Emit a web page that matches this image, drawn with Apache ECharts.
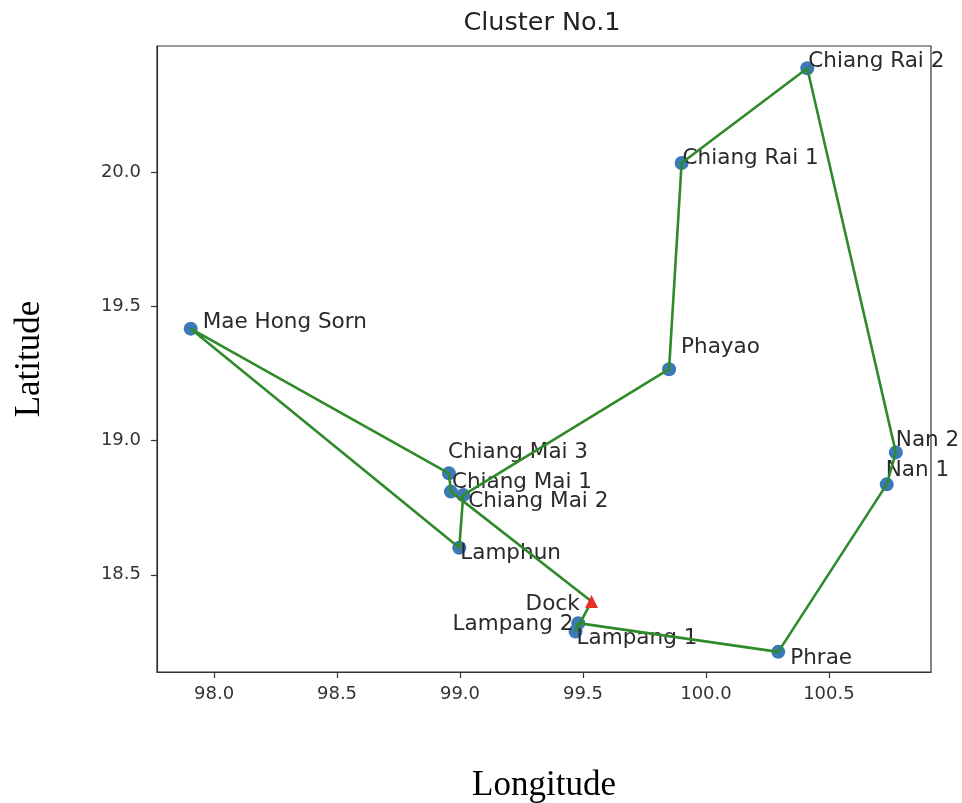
<!DOCTYPE html>
<html>
<head>
<meta charset="utf-8">
<script src="https://cdn.jsdelivr.net/npm/echarts@6/dist/echarts.min.js"></script>
<style>
  html, body { margin: 0; padding: 0; background: #fff; }
  #chart { width: 962px; height: 803px; }
</style>
</head>
<body>
<div id="chart"></div>
<script>
// 站点名称与经纬度
const names = ['Chiang Rai 2', 'Chiang Rai 1', 'Phayao', 'Mae Hong Sorn', 'Chiang Mai 3', 'Chiang Mai 1',
  'Chiang Mai 2', 'Lamphun', 'Lampang 2', 'Lampang 1', 'Phrae', 'Nan 1', 'Nan 2'];
const lons = [100.412, 99.901, 99.850, 97.905, 98.955, 98.963, 99.013, 98.997, 99.481, 99.470, 100.294, 100.735, 100.772];
const lats = [20.387, 20.034, 19.266, 19.417, 18.878, 18.810, 18.797, 18.601, 18.320, 18.289, 18.213, 18.837, 18.956];

// 仓库
const dockLon = 99.535;
const dockLat = 18.401;

// 路线顺序（从仓库出发并返回）
const route = ['Dock', 'Lampang 1', 'Lampang 2', 'Phrae', 'Nan 1', 'Nan 2', 'Chiang Rai 2', 'Chiang Rai 1',
  'Phayao', 'Chiang Mai 2', 'Lamphun', 'Mae Hong Sorn', 'Chiang Mai 3', 'Chiang Mai 1', 'Dock'];

// 坐标轴刻度
const xTicks = [98.0, 98.5, 99.0, 99.5, 100.0, 100.5];
const yTicks = [18.5, 19.0, 19.5, 20.0];

// 标签摆放（仅样式）
const labelPlace = {
  'Chiang Rai 2': [1, -7, 'left'],
  'Chiang Rai 1': [1, -5, 'left'],
  'Phayao': [12, -22, 'left'],
  'Mae Hong Sorn': [12, -6, 'left'],
  'Chiang Mai 3': [-1, -21, 'left'],
  'Chiang Mai 1': [1, -9, 'left'],
  'Chiang Mai 2': [5, 6, 'left'],
  'Lamphun': [1, 6, 'left'],
  'Lampang 2': [-5, 1, 'right'],
  'Lampang 1': [1, 7, 'left'],
  'Phrae': [12, 7, 'left'],
  'Nan 1': [-1, -14, 'left'],
  'Nan 2': [0, -12, 'left'],
  'Dock': [-12, 3, 'right']
};

function coordOf(name) {
  if (name === 'Dock') return [dockLon, dockLat];
  const i = names.indexOf(name);
  return [lons[i], lats[i]];
}

const chart = echarts.init(document.getElementById('chart'));

const pointData = names.map((n, i) => {
  const p = labelPlace[n];
  return {
    name: n,
    value: [lons[i], lats[i]],
    label: { offset: [p[0], p[1]], align: p[2] }
  };
});

const option = {
  animation: false,
  backgroundColor: '#fff',
  graphic: [{
    type: 'text',
    x: 542,
    y: 23,
    style: {
      text: 'Cluster No.1',
      font: '25.5px "DejaVu Sans"',
      fill: '#222',
      align: 'center',
      verticalAlign: 'middle'
    }
  }],
  grid: {
    left: 157,
    right: 31,
    top: 46,
    bottom: 131,
    containLabel: false,
    outerBoundsMode: 'none',
    show: true,
    borderColor: '#333',
    borderWidth: 1.2
  },
  xAxis: {
    type: 'value',
    min: 97.768,
    max: 100.915,
    name: 'Longitude',
    nameLocation: 'middle',
    nameGap: 96,
    nameTextStyle: { fontFamily: 'Liberation Serif', fontSize: 35, color: '#000' },
    axisLine: { show: true, onZero: false, lineStyle: { color: '#333', width: 1.2 } },
    axisTick: { show: true, inside: false, length: 6, customValues: xTicks, lineStyle: { color: '#333', width: 1.2 } },
    axisLabel: {
      customValues: xTicks,
      fontFamily: 'DejaVu Sans',
      fontSize: 18,
      color: '#333',
      margin: 13,
      formatter: v => v.toFixed(1)
    },
    splitLine: { show: false }
  },
  yAxis: {
    type: 'value',
    min: 18.138,
    max: 20.470,
    name: 'Latitude',
    nameLocation: 'middle',
    nameGap: 110,
    nameRotate: 90,
    nameTextStyle: { fontFamily: 'Liberation Serif', fontSize: 35, color: '#000' },
    axisLine: { show: true, onZero: false, lineStyle: { color: '#333', width: 1.2 } },
    axisTick: { show: true, inside: false, length: 6, customValues: yTicks, lineStyle: { color: '#333', width: 1.2 } },
    axisLabel: {
      customValues: yTicks,
      fontFamily: 'DejaVu Sans',
      fontSize: 18,
      color: '#333',
      margin: 16,
      formatter: v => v.toFixed(1)
    },
    splitLine: { show: false }
  },
  series: [
    {
      type: 'scatter',
      symbol: 'circle',
      symbolSize: 14,
      itemStyle: { color: '#3b7ab6', opacity: 1 },
      z: 2,
      label: {
        show: true,
        position: 'inside',
        formatter: '{b}',
        fontFamily: 'DejaVu Sans',
        fontSize: 21.5,
        color: '#2a2a2a'
      },
      data: pointData
    },
    {
      type: 'line',
      data: route.map(coordOf),
      showSymbol: false,
      lineStyle: { color: '#2f8a2a', width: 2.6 },
      z: 3
    },
    {
      type: 'scatter',
      symbol: 'triangle',
      symbolSize: 13,
      itemStyle: { color: '#e8302a', opacity: 1 },
      z: 4,
      label: {
        show: true,
        position: 'inside',
        formatter: '{b}',
        fontFamily: 'DejaVu Sans',
        fontSize: 21.5,
        color: '#2a2a2a',
        offset: [labelPlace['Dock'][0], labelPlace['Dock'][1]],
        align: labelPlace['Dock'][2]
      },
      data: [{ name: 'Dock', value: [dockLon, dockLat] }]
    }
  ]
};

chart.setOption(option);
</script>
</body>
</html>
